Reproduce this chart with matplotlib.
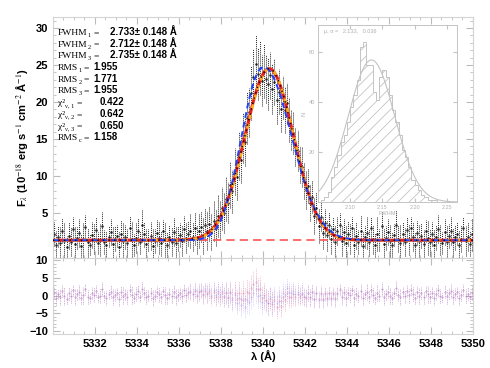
import numpy as np
import matplotlib.pyplot as plt

# --- spectrum (0.1 A sampling from 5330.05 A) ---
wave_start = 5330.05
wave_step = 0.1
flux = [2.1, 0.6, 1.8, 0.9, 2.6, 1.2, 0.4, 1.9, 1.1, 2.8,
        0.8, 1.6, 2.3, 0.5, 1.4, 3.1, 1.0, 0.7, 2.0, 1.5,
        2.7, 0.9, 1.3, 3.2, 1.1, 0.6, 1.8, 2.4, 0.8, 1.5,
        1.9, 0.4, 2.2, 1.2, 1.7, 0.9, 2.9, 1.4, 0.7, 1.6,
        2.5, 1.0, 3.3, 2.1, 0.8, 1.3, 1.9, 0.5, 1.2, 2.3,
        1.6, 0.9, 2.6, 1.4, 0.6, 1.8, 1.1, 2.4, 0.9, 1.5,
        2.0, 1.2, 2.8, 1.6, 2.2, 2.5, 1.8, 2.9, 1.4, 2.6,
        3.1, 1.9, 3.4, 2.6, 3.5, 2.4, 3.9, 3.0, 4.6, 4.0,
        5.6, 5.0, 6.9, 6.4, 8.8, 7.9, 10.6, 9.8, 12.7, 12.2,
        15.1, 14.6, 17.8, 18.6, 21.2, 23.4, 25.1, 23.8, 24.6, 22.9,
        24.2, 23.1, 22.4, 23.6, 21.8, 22.7, 20.3, 21.4, 19.1, 20.6,
        18.9, 19.8, 17.6, 16.2, 15.8, 13.9, 13.4, 11.6, 11.2, 9.3,
        8.1, 8.6, 6.4, 7.2, 4.6, 5.7, 3.2, 4.5, 2.3, 3.6,
        2.0, 3.3, 1.4, 2.8, 1.1, 2.5, 3.4, 1.2, 2.4, 0.9,
        2.2, 1.5, 3.0, 0.7, 1.9, 1.1, 2.6, 0.5, 1.7, 2.3,
        1.0, 2.9, 1.4, 0.6, 2.1, 1.3, 3.2, 0.8, 1.6, 2.4,
        1.2, 0.7, 2.0, 3.4, 1.5, 0.9, 2.2, 1.1, 2.7, 1.4,
        3.0, 1.8, 0.6, 2.3, 1.2, 1.9, 0.8, 2.5, 1.6, 1.0,
        2.1, 0.7, 1.7, 2.8, 1.3, 0.9, 2.4, 1.1, 1.9, 2.6,
        1.0, 1.7, 2.2, 0.6, 1.5, 2.9, 1.2, 1.8, 0.8, 2.1]
flux_err = [1.6, 1.9, 1.4, 2.2, 1.7, 2.5, 1.5, 1.8, 2.0, 1.6,
            2.3, 1.5, 1.9, 1.7, 2.4, 1.6, 2.0, 1.4, 1.8, 2.1,
            1.7, 1.5, 2.2, 1.9, 1.6, 2.0, 1.4, 1.8, 2.3, 1.7,
            1.5, 2.1, 1.8, 2.4, 1.6, 1.9, 1.7, 2.5, 1.5, 2.0,
            1.8, 1.6, 2.2, 1.7, 2.0, 1.5, 1.9, 2.3, 1.6, 1.8,
            2.1, 1.7, 1.5, 2.4, 1.8, 1.6, 2.0, 1.9, 2.2, 1.7,
            1.6, 2.1, 1.8, 2.0, 1.7, 2.3, 1.9, 2.2, 2.0, 2.4,
            2.1, 2.5, 2.2, 2.6, 2.3, 2.4, 2.7, 2.5, 2.8, 2.6,
            2.9, 2.7, 3.0, 2.8, 3.1, 2.9, 3.2, 3.0, 3.3, 3.1,
            3.4, 3.2, 3.5, 3.3, 3.6, 3.8, 3.9, 3.5, 3.7, 3.4,
            3.6, 3.3, 3.5, 3.2, 3.4, 3.1, 3.3, 3.0, 3.2, 2.9,
            3.1, 2.8, 3.0, 2.7, 2.9, 2.6, 2.8, 2.5, 2.7, 2.4,
            2.6, 2.3, 2.5, 2.2, 2.4, 2.1, 2.3, 2.0, 2.2, 1.9,
            2.1, 1.8, 2.0, 1.7, 2.2, 1.9, 1.6, 2.1, 1.8, 2.3,
            1.7, 2.0, 1.5, 2.4, 1.8, 1.6, 2.1, 1.9, 1.5, 2.2,
            1.8, 1.6, 2.0, 1.7, 2.3, 1.5, 1.9, 2.1, 1.6, 1.8,
            2.2, 1.7, 1.5, 2.0, 1.8, 2.4, 1.6, 1.9, 1.7, 2.1,
            1.5, 2.0, 1.8, 1.6, 2.2, 1.7, 1.9, 1.5, 2.3, 1.8,
            1.6, 2.1, 1.7, 1.9, 2.0, 1.5, 1.8, 2.2, 1.6, 1.9,
            2.0, 1.7, 1.5, 2.1, 1.8, 1.6, 2.0, 1.9, 1.7, 2.2]

# --- fitted line profiles ---
continuum = 1.3
fit1 = dict(amp=23.2, centre=5340.30, fwhm=2.733)     # red
fit2 = dict(amp=23.2, centre=5340.32, fwhm=2.712)     # orange dashed
# blue: asymmetric profile (left width, left power, right width, right power)
fit3 = dict(amp=23.4, centre=5340.05, a_left=1.45, p_left=2.2, a_right=1.85, p_right=2.0)

# label = (main part, subscript); values in the second column
stats_labels = [('FWHM', '1'), ('FWHM', '2'), ('FWHM', '3'), ('RMS', '1'), ('RMS', '2'),
                ('RMS', '3'), ('\u03c7\u00b2', '\u03bd, 1'), ('\u03c7\u00b2', '\u03bd, 2'),
                ('\u03c7\u00b2', '\u03bd, 3'), ('RMS', 'c')]
stats_values = ['2.733\u00b1 0.148 \u00c5', '2.712\u00b1 0.148 \u00c5', '2.735\u00b1 0.148 \u00c5',
                '1.955', '1.771', '1.955', '0.422', '0.642', '0.650', '1.158']

# --- inset: FWHM distribution (bin start, counts) ---
hist_start = 2.055
hist_width = 0.005
hist_counts = [1, 2, 4, 10, 14, 19, 24, 27, 32, 38, 43, 49, 62, 64, 55, 55, 44, 41,
               50, 53, 50, 43, 37, 32, 27, 21, 18, 14, 9, 7, 5, 3, 2, 1, 1, 1, 0]
hist_gauss = dict(amp=57, mu=2.133, sigma=0.036)


def gauss(x, p):
    s = p['fwhm'] / 2.3548
    return continuum + p['amp'] * np.exp(-(x - p['centre'])**2 / (2 * s**2))


def skewed(x, p):
    d = x - p['centre']
    left = np.exp(-(np.abs(d) / p['a_left'])**p['p_left'])
    right = np.exp(-(np.abs(d) / p['a_right'])**p['p_right'])
    return continuum + p['amp'] * np.where(d < 0, left, right)


flux = np.array(flux)
flux_err = np.array(flux_err)
wave = wave_start + wave_step * np.arange(len(flux))
xx = np.linspace(5330, 5350, 800)

plt.rcParams['font.family'] = ['Liberation Sans', 'DejaVu Sans']
plt.rcParams['mathtext.fontset'] = 'stix'
plt.rcParams['hatch.color'] = '#c8c8c8'
plt.rcParams['hatch.linewidth'] = 0.6

fig = plt.figure(figsize=(4.9, 3.68), dpi=100)
ax = fig.add_axes([0.108, 0.299, 0.857, 0.655])
axr = fig.add_axes([0.108, 0.092, 0.857, 0.207], sharex=ax)

frame_col = '#d4d4d4'
for a in (ax, axr):
    for sp in a.spines.values():
        sp.set_color(frame_col)
        sp.set_linewidth(0.8)
    a.tick_params(which='both', direction='in', top=True, right=True, color='#bbbbbb',
                  labelsize=8)
    a.tick_params(which='major', length=5)
    a.tick_params(which='minor', length=2.5)

# main panel
eb = ax.errorbar(wave, flux, yerr=flux_err, fmt='.', ms=1.6, color='#222222',
                 elinewidth=0.7, capsize=0, zorder=2)
eb[2][0].set_linestyle((0, (1, 1)))
ax.axhline(continuum, color='#ff5555', lw=1.2, ls=(0, (5, 3)), zorder=3)
ax.plot(xx, gauss(xx, fit1), color='#e8201a', lw=2.2, zorder=4)
ax.plot(xx, gauss(xx, fit2), color='#ffb020', lw=1.8, ls=(0, (2, 2)), zorder=5)
ax.plot(xx, gauss(xx, fit1), color='#000000', lw=1.0, ls=(0, (1, 3)), zorder=6)
ax.plot(xx, skewed(xx, fit3), color='#2040ff', lw=1.4, ls=(0, (3, 2)), zorder=5)

ax.set_xlim(5330, 5350)
ax.set_ylim(-1.1, 31.5)
ax.set_yticks([5, 10, 15, 20, 25, 30])
ax.set_yticks(np.arange(0, 32, 1), minor=True)
ax.set_xticks(np.arange(5330, 5350.1, 0.5), minor=True)
ax.tick_params(labelbottom=False)
ax.set_ylabel('F$_\\lambda$ (10$^{-18}$ erg s$^{-1}$ cm$^{-2}$ \u00c5$^{-1}$)', fontsize=8,
              fontweight='bold', labelpad=4)

# statistics text block, laid out piece by piece in pixels
value_x = [110, 110, 110, 80, 80, 80, 100, 100, 100, 80]   # value column, as in the picture
serif = ['Liberation Serif', 'DejaVu Serif']
renderer = fig.canvas.get_renderer()
ax_bb = ax.get_window_extent(renderer)
x0 = ax_bb.x0 + 5
for i, ((main, sub), val) in enumerate(zip(stats_labels, stats_values)):
    y = ax_bb.y1 - 18 - i * 11.7
    t1 = fig.text(x0, y, main, transform=None, fontsize=6.8, family=serif, va='baseline')
    bb = t1.get_window_extent(renderer)
    t2 = fig.text(bb.x1 + 0.3, y - 2, sub, transform=None, fontsize=4.6, family=serif,
                  va='baseline')
    bb = t2.get_window_extent(renderer)
    t3 = fig.text(bb.x1 + 2.5, y, '=', transform=None, fontsize=6.8, family=serif,
                  va='baseline')
    bb = t3.get_window_extent(renderer)
    fig.text(max(value_x[i], bb.x1 + 4), y, val, transform=None, fontsize=7,
             fontweight='bold', va='baseline')

# residual panel
res1 = flux - gauss(wave, fit1)
res3 = flux - skewed(wave, fit3)
e1 = axr.errorbar(wave, res1, yerr=flux_err, fmt='.', ms=0.8, color='#e06a8a',
                  elinewidth=0.6, alpha=0.5, capsize=0)
e3 = axr.errorbar(wave, res3, yerr=flux_err, fmt='.', ms=0.8, color='#7a7aff',
                  elinewidth=0.6, alpha=0.35, capsize=0)
e1[2][0].set_linestyle((0, (1, 1)))
e3[2][0].set_linestyle((0, (1, 1)))
axr.set_ylim(-11, 10.7)
axr.set_yticks([-10, -5, 0, 5, 10])
axr.set_yticks(np.arange(-11, 11, 1), minor=True)
axr.set_xticks([5332, 5334, 5336, 5338, 5340, 5342, 5344, 5346, 5348, 5350])
axr.set_xlabel('\u03bb (\u00c5)', fontsize=8, fontweight='bold', labelpad=1)

for a in (ax, axr):
    for lab in a.get_yticklabels() + a.get_xticklabels():
        lab.set_fontweight('bold')

# inset histogram
ins = fig.add_axes([0.649, 0.451, 0.284, 0.481])
ins.patch.set_alpha(0)
grey = '#c4c4c4'
edges = hist_start + hist_width * np.arange(len(hist_counts) + 1)
ins.stairs(hist_counts, edges, fill=False, hatch='///', color=grey, lw=0.7)
hx = np.linspace(2.05, 2.266, 300)
ins.plot(hx, hist_gauss['amp'] * np.exp(-(hx - hist_gauss['mu'])**2 / (2 * hist_gauss['sigma']**2)),
         color=grey, lw=0.8)
ins.set_xlim(2.05, 2.266)
ins.set_ylim(0, 71)
ins.set_xticks([2.10, 2.15, 2.20, 2.25])
ins.set_yticks([20, 40, 60])
for sp in ins.spines.values():
    sp.set_color(grey)
    sp.set_linewidth(0.7)
ins.tick_params(direction='in', top=True, right=True, color=grey, labelcolor='#b0b0b0',
                labelsize=4, length=3, pad=2)
ins.set_xlabel('FWHM', fontsize=4, color='#b0b0b0', labelpad=1)
ins.set_ylabel('N', fontsize=4, color='#b0b0b0', labelpad=2)
ins.text(0.04, 0.975, '\u03bc, \u03c3 =   2.133,   0.036', transform=ins.transAxes, fontsize=4,
         color='#b0b0b0', va='top')

fig.savefig('out.png', dpi=100)
